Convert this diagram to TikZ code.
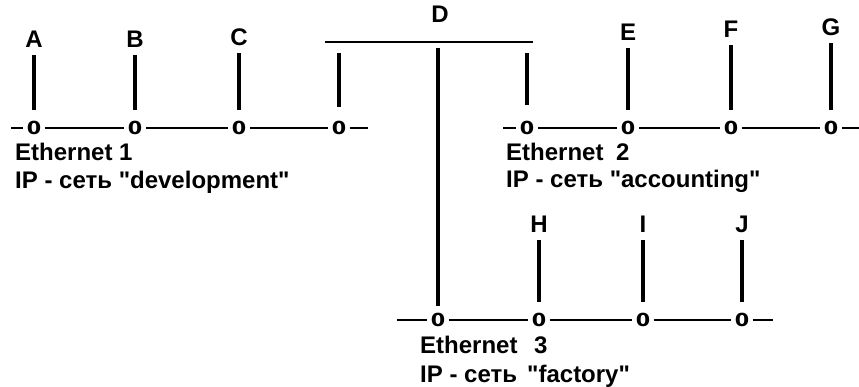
\documentclass[tikz,border=0pt]{standalone}
\usepackage{fontspec}
\usepackage{graphicx}
\newfontfamily\lsb{Liberation Sans}[]
\newfontfamily\dvs{DejaVu Sans}[]
\newcommand\zr{\scalebox{1.15}[1]{0}}
\begin{document}
\begin{tikzpicture}[x=1pt,y=-1pt,
  lbl/.style={anchor=base,inner sep=0pt,font=\lsb\fontsize{24}{28}\selectfont\bfseries},
  txt/.style={anchor=base west,inner sep=0pt,font=\lsb\fontsize{24}{28}\selectfont\bfseries},
  zero/.style={inner ysep=0pt,inner xsep=3.5pt,font=\dvs\fontsize{18}{20}\selectfont\bfseries},
  wire/.style={line width=1.3pt},
  stub/.style={line width=3.4pt,shorten <=7pt,shorten >=11pt},
  bar/.style={line width=1.8pt}]
\useasboundingbox (0,0) rectangle (859,387);
% Ethernet 1
\node[zero] (a0) at (34,128) {\zr};
\node[zero] (b0) at (135,128) {\zr};
\node[zero] (c0) at (239,128) {\zr};
\node[zero] (r1) at (339,128) {\zr};
\coordinate (e1l) at (11,128);
\coordinate (e1r) at (368,128);
\draw[wire] (e1l) -- (a0) -- (b0) -- (c0) -- (r1) -- (e1r);
\node[lbl] (A) at (34,48) {A};
\node[lbl] (B) at (135,48) {B};
\node[lbl] (C) at (239,46) {C};
\draw[stub] (A.south) -- (A.south |- a0.north);
\draw[stub] (B.south) -- (B.south |- b0.north);
\draw[stub] (C.south) -- (C.south |- c0.north);
\node[txt] (t1) at (15,161) {Ethernet 1};
\node[txt] (n1) at (15,189) {IP - сеть "development"};
% Ethernet 2
\node[zero] (r2) at (527,128) {\zr};
\node[zero] (e0) at (628,128) {\zr};
\node[zero] (f0) at (731,128) {\zr};
\node[zero] (g0) at (831,128) {\zr};
\coordinate (e2l) at (503,128);
\coordinate (e2r) at (859,128);
\draw[wire] (e2l) -- (r2) -- (e0) -- (f0) -- (g0) -- (e2r);
\node[lbl] (E) at (628,41) {E};
\node[lbl] (F) at (731,38) {F};
\node[lbl] (G) at (831,36) {G};
\draw[stub] (E.south) -- (E.south |- e0.north);
\draw[stub] (F.south) -- (F.south |- f0.north);
\draw[stub] (G.south) -- (G.south |- g0.north);
\node[txt] (t2) at (506,161) {\makebox[110pt][l]{Ethernet}2};
\node[txt] (n2) at (506,188) {IP - сеть "accounting"};
% Ethernet 3
\node[zero] (r3) at (438,320) {\zr};
\node[zero] (h0) at (539,320) {\zr};
\node[zero] (i0) at (643,320) {\zr};
\node[zero] (j0) at (742,320) {\zr};
\coordinate (e3l) at (397,320);
\coordinate (e3r) at (773,320);
\draw[wire] (e3l) -- (r3) -- (h0) -- (i0) -- (j0) -- (e3r);
\node[lbl] (H) at (539,233) {H};
\node[lbl] (I) at (643,233) {I};
\node[lbl] (J) at (742,233) {J};
\draw[stub] (H.south) -- (H.south |- h0.north);
\draw[stub] (I.south) -- (I.south |- i0.north);
\draw[stub] (J.south) -- (J.south |- j0.north);
\node[txt] (t3) at (420,353) {\makebox[114pt][l]{Ethernet}3};
\node[txt] (n3) at (420,382) {\makebox[107pt][l]{IP - сеть}"factory"};
% Router D
\node[lbl] (D) at (440,23) {D};
\coordinate (dl) at (325,42);
\coordinate (dr) at (533,42);
\draw[bar] (dl) -- (dr);
\draw[stub,shorten <=11pt,shorten >=14pt] (r1 |- dl) -- (r1);
\draw[stub,shorten <=11pt,shorten >=16pt] (r2 |- dl) -- (r2);
\draw[stub,shorten <=6pt,shorten >=7pt] (r3 |- dl) -- (r3.north);
\end{tikzpicture}
\end{document}
